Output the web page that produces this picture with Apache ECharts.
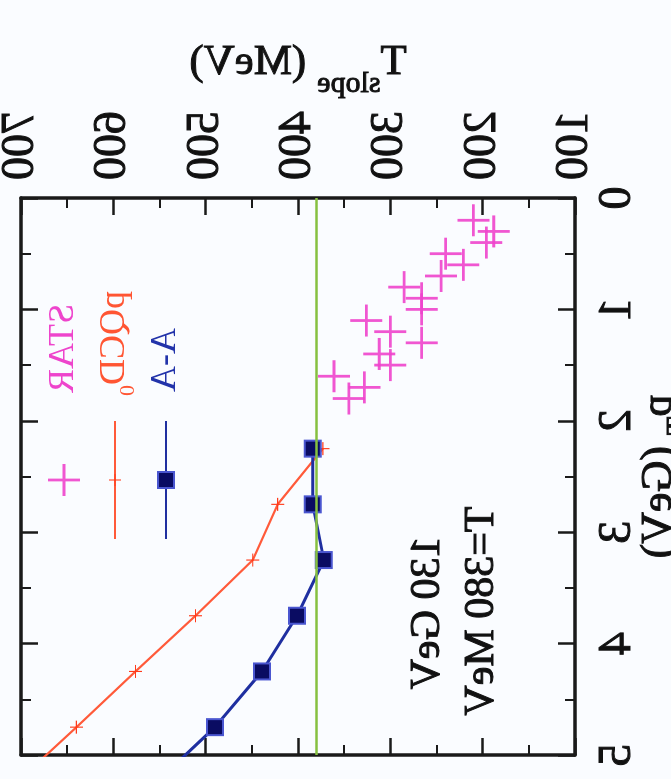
<!DOCTYPE html>
<html>
<head>
<meta charset="utf-8">
<script src="https://cdn.jsdelivr.net/npm/echarts@6/dist/echarts.min.js"></script>
<style>
  html, body { margin: 0; padding: 0; width: 671px; height: 779px; overflow: hidden; background: #fafcff; }
  /* the scanned figure is transposed (rotated + mirrored), so the chart is drawn upright and flipped with css */
  #chart { position: absolute; left: 0; top: 0; width: 779px; height: 671px; transform-origin: 0 0; transform: matrix(0, 1, 1, 0, 0, 0); }
</style>
</head>
<body>
<div id="chart"></div>
<script>
// STAR 数据点
var starPt = [0.2, 0.3, 0.4, 0.5, 0.6, 0.7, 0.8, 0.9, 1.0, 1.1, 1.2, 1.3, 1.4, 1.5, 1.6, 1.7, 1.8]
var starT = [210, 188, 196, 240, 221, 245, 285, 266, 266, 326, 300, 266, 312, 300, 361, 328, 345]
// pQCD 曲线
var pqcdPt = [2.25, 2.75, 3.25, 3.75, 4.25, 4.75, 5.25]
var pqcdT = [373, 422, 449, 511, 576, 640, 705]
// A-A 曲线
var aaPt = [2.25, 2.75, 3.25, 3.75, 4.25, 4.75, 5.25]
var aaT = [384, 384, 372, 401, 439, 490, 554]
// 参考线
var refT = 380
var notes = ['130 GeV', 'T=380 MeV']

var serif = 'Liberation Serif'
var ink = '#111'
var crossPath = 'path://M0,13.7h13.7v-13.7h2.6v13.7h13.7v2.6h-13.7v13.7h-2.6v-13.7h-13.7z'

function zip(xs, ys) {
  return xs.map(function (x, i) { return [x, ys[i]] })
}

// 黑色文字稍微加粗，接近扫描件
function inkText(size, extra) {
  return Object.assign({ fontSize: size, fontFamily: serif, color: ink, textBorderColor: ink, textBorderWidth: 1 }, extra || {})
}

// 四条边框轴，共用同一套刻度
function frameAxis(extra) {
  var base = {
    type: 'value',
    splitLine: { show: false },
    axisLine: { show: true, onZero: false, lineStyle: { color: '#1a1a1a', width: 3.5 } },
    axisTick: { show: true, inside: true, length: 17, lineStyle: { color: '#1a1a1a', width: 2.5 } },
    minorTick: { show: true, splitNumber: 2, length: 10, lineStyle: { color: '#1a1a1a', width: 2 } },
    axisLabel: { show: false },
  }
  return Object.assign(base, extra)
}

var chart = echarts.init(document.getElementById('chart'))

var option = {
  backgroundColor: '#fafcff',
  animation: false,
  grid: { left: 198, top: 21, width: 557, height: 554, containLabel: false, outerBoundsMode: 'none' },
  xAxis: [
    frameAxis({
      position: 'bottom', min: 0, max: 5, interval: 1,
      axisLabel: inkText(46, { show: true, margin: 20 }),
      name: '{a|p}{b|T}{a| (GeV)}', nameLocation: 'middle', nameGap: 62, nameMoveOverlap: false,
      nameTextStyle: {
        color: ink, fontFamily: serif,
        rich: {
          a: inkText(44, { lineHeight: 44, verticalAlign: 'top' }),
          b: inkText(30, { lineHeight: 30, verticalAlign: 'top', padding: [26, 0, 0, 0] }),
        },
      },
    }),
    frameAxis({ position: 'top', min: 0, max: 5, interval: 1 }),
  ],
  yAxis: [
    frameAxis({
      position: 'left', min: 100, max: 700, interval: 100,
      axisLabel: inkText(46, { show: true, margin: 18 }),
      name: '{a|T}{b|slope}{a| (MeV)}', nameLocation: 'middle', nameGap: 110, nameRotate: 90,
      nameTextStyle: {
        color: ink, fontFamily: serif,
        rich: {
          a: inkText(43, { lineHeight: 43, verticalAlign: 'top' }),
          b: inkText(30, { lineHeight: 30, verticalAlign: 'top', padding: [28, 0, 0, 0] }),
        },
      },
    }),
    frameAxis({ position: 'right', min: 100, max: 700, interval: 100 }),
  ],
  legend: [
    {
      data: ['STAR'], right: 283, top: 46, padding: 0, selectedMode: false, align: 'right',
      itemWidth: 32, itemHeight: 32,
      textStyle: { color: '#ee44cc', fontFamily: serif, fontSize: 36, padding: [0, 66, 0, 0] },
    },
    {
      data: ['pQCD'], right: 239, top: 97, padding: 0, selectedMode: false, align: 'right',
      itemWidth: 118, itemHeight: 15,
      formatter: '{a|pQCD}{b|0}',
      textStyle: {
        color: '#ff5533', fontFamily: serif, fontSize: 36, padding: [0, 20, 0, 0],
        rich: {
          a: { fontSize: 36, fontFamily: serif, color: '#ff5533', verticalAlign: 'top', lineHeight: 36 },
          b: { fontSize: 22, fontFamily: serif, color: '#ff5533', verticalAlign: 'top', lineHeight: 22, padding: [20, 0, 0, 0] },
        },
      },
    },
    {
      data: ['A-A'], right: 239, top: 148, padding: 0, selectedMode: false, align: 'right',
      itemWidth: 118, itemHeight: 20,
      textStyle: { color: '#2233aa', fontFamily: serif, fontSize: 36, padding: [0, 24, 0, 0] },
    },
  ],
  graphic: [
    { type: 'text', x: 613, y: 428, style: { text: notes[0], font: '42px "Liberation Serif"', fill: ink, stroke: ink, lineWidth: 1, align: 'center', verticalAlign: 'middle' } },
    { type: 'text', x: 611, y: 482, style: { text: notes[1], font: '42px "Liberation Serif"', fill: ink, stroke: ink, lineWidth: 1, align: 'center', verticalAlign: 'middle' } },
  ],
  series: [
    {
      // T=380 MeV 参考线
      name: 'ref', type: 'line', data: [], silent: true,
      markLine: {
        silent: true, symbol: ['none', 'none'], label: { show: false },
        lineStyle: { color: '#86c040', width: 2.5, type: 'solid' },
        data: [{ yAxis: refT }],
      },
    },
    {
      name: 'pQCD', type: 'line', data: zip(pqcdPt, pqcdT), clip: true,
      symbol: crossPath, symbolSize: 13,
      lineStyle: { color: '#ff5a3a', width: 2.2 },
      itemStyle: { color: '#ff3a1a' },
    },
    {
      name: 'A-A', type: 'line', data: zip(aaPt, aaT), clip: true,
      symbol: 'rect', symbolSize: 16,
      lineStyle: { color: '#1f2fa0', width: 3 },
      itemStyle: { color: '#0a0c62', borderColor: '#4a56d0', borderWidth: 2 },
    },
    {
      name: 'STAR', type: 'scatter', data: zip(starPt, starT),
      symbol: crossPath, symbolSize: 32,
      itemStyle: { color: '#ee44cc', opacity: 0.9 },
    },
  ],
}

chart.setOption(option)
</script>
</body>
</html>
